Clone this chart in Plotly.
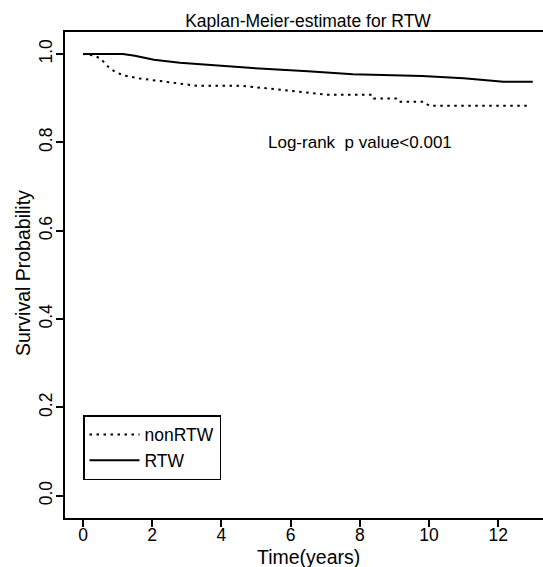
import plotly.graph_objects as go

# ---- data ----
rtw_t = [0, 1.15, 1.5, 2.05, 2.8, 3.7, 5.1, 6.5, 7.8, 9.8, 11.0, 12.15, 13.0]
rtw_s = [1.0, 1.0, 0.996, 0.987, 0.980, 0.975, 0.967, 0.961, 0.954, 0.950, 0.945, 0.937, 0.937]

non_t = [0, 0.3, 0.5, 0.78, 1.0, 1.2, 1.6, 2.7, 3.3, 4.6, 5.4, 6.2, 7.05,
         8.35, 8.4, 9.05, 9.1, 9.85, 10.0, 12.9]
non_s = [1.0, 0.997, 0.99, 0.967, 0.957, 0.951, 0.945, 0.933, 0.928, 0.928, 0.922,
         0.916, 0.908, 0.908, 0.899, 0.899, 0.892, 0.892, 0.883, 0.883]

x_ticks = [0, 2, 4, 6, 8, 10, 12]
y_ticks = [0.0, 0.2, 0.4, 0.6, 0.8, 1.0]
y_tick_text = ["0.0", "0.2", "0.4", "0.6", "0.8", "1.0"]

FONT = "Liberation Sans, Arial, sans-serif"

fig = go.Figure()
fig.add_trace(go.Scatter(x=non_t, y=non_s, mode="lines", name="nonRTW",
                         line=dict(color="black", width=2, dash="2.5px,4.5px")))
fig.add_trace(go.Scatter(x=rtw_t, y=rtw_s, mode="lines", name="RTW",
                         line=dict(color="black", width=2)))

fig.update_layout(
    width=543, height=567,
    margin=dict(l=65, r=0, t=32, b=49),
    paper_bgcolor="white", plot_bgcolor="white",
    font=dict(family=FONT, color="black", size=17.5),
    title=dict(text="Kaplan-Meier-estimate for RTW", xref="container", yref="container",
               x=308 / 543, y=1 - 21 / 567, xanchor="center", yanchor="middle",
               font=dict(size=17.5, color="black")),
    xaxis=dict(range=[-0.52, 13.295], tickvals=x_ticks, ticks="outside", ticklen=7,
               tickwidth=1.5, tickcolor="black", showline=True, linecolor="black",
               linewidth=1.5, mirror=True, showgrid=False, zeroline=False,
               tickfont=dict(size=17.5), ticklabelstandoff=-7),
    yaxis=dict(range=[-0.0505, 1.0498], tickvals=y_ticks, ticktext=y_tick_text,
               ticks="outside", ticklen=7, tickwidth=1.5, tickcolor="black",
               showline=True, linecolor="black", linewidth=1.5, mirror=False,
               showgrid=False, zeroline=False, tickangle=-90,
               tickfont=dict(size=17.5), ticklabelstandoff=-3),
    legend=dict(x=(83 - 65) / 478, y=(518 - 415) / 486, xanchor="left", yanchor="top",
                bordercolor="black", borderwidth=1.5, bgcolor="white",
                font=dict(size=17.5), traceorder="normal", itemwidth=50),
    showlegend=True,
)

fig.add_annotation(text="Log-rank\u00a0 p value&lt;0.001", x=8, y=0.8, xref="x", yref="y",
                   showarrow=False, xanchor="center", yanchor="middle",
                   font=dict(size=17))
fig.add_annotation(text="Time(years)", x=(308 - 65) / 478, y=(518 - 557) / 486,
                   xref="paper", yref="paper", showarrow=False,
                   xanchor="center", yanchor="middle", font=dict(size=19.5))
fig.add_annotation(text="Survival Probability", x=(23 - 65) / 478, y=(518 - 273) / 486,
                   xref="paper", yref="paper", showarrow=False, textangle=-90,
                   xanchor="center", yanchor="middle", font=dict(size=19.5))

fig.write_html("out.html")
